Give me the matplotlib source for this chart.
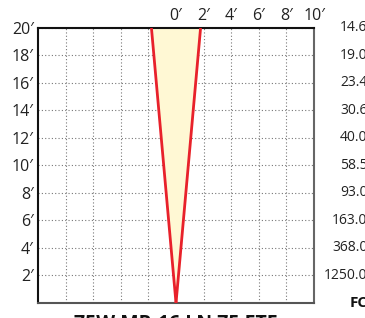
import matplotlib.pyplot as plt

# beam spread data (feet)
distance = [0, 20]
half_width = [0, 1.78]
fc_levels = [20, 18, 16, 14, 12, 10, 8, 6, 4, 2]
fc_values = ["14.6", "19.0", "23.4", "30.6", "40.0", "58.5", "93.0", "163.0", "368.0", "1250.0"]
x_ticks = [0, 2, 4, 6, 8, 10]
y_ticks = [2, 4, 6, 8, 10, 12, 14, 16, 18, 20]
lamp_name = "75W MR-16 LN 75 ETF"

plt.rcParams['font.family'] = ['Open Sans', 'DejaVu Sans']

fig = plt.figure(figsize=(3.65, 3.18), dpi=100)
ax = fig.add_axes([0.1041, 0.0472, 0.7562, 0.8648])

neg = [-w for w in half_width]
ax.fill_betweenx(distance, neg, half_width, color="#fff8d4", zorder=1)
ax.plot(neg, distance, color="#e8212b", lw=2.0, zorder=3, solid_capstyle="butt")
ax.plot(half_width, distance, color="#e8212b", lw=2.0, zorder=3, solid_capstyle="butt")

ax.set_xlim(-10, 10)
ax.set_ylim(0, 20)

grid_x = list(range(-8, 11, 2))
ax.set_xticks(grid_x)
ax.set_xticklabels(["" if v < 0 else f"{v}\u2032" for v in grid_x])
ax.set_yticks(y_ticks)
ax.set_yticklabels([f"{v}\u2032" for v in y_ticks])
ax.xaxis.tick_top()
ax.tick_params(length=0, labelsize=11.5, colors="#222222", pad=3)

ax.grid(True, linestyle=(0, (1, 2)), color="#777777", lw=0.8, zorder=0)
ax.set_axisbelow(True)

for side, col in [("left", "#111111"), ("top", "#111111"), ("right", "#666666"), ("bottom", "#555555")]:
    ax.spines[side].set_color(col)
    ax.spines[side].set_linewidth(1.5)

# footcandle column on the right
for lvl, txt in zip(fc_levels, fc_values):
    ax.text(1.194, lvl, txt, transform=ax.get_yaxis_transform(), ha="right", va="center",
            fontsize=10, color="#222222")
ax.text(1.194, 0, "FC", transform=ax.get_yaxis_transform(), ha="right", va="center",
        fontsize=11, fontweight="bold", color="#111111")

fig.text(0.482, -0.051, lamp_name, ha="center", va="bottom", fontsize=14, fontweight="bold", color="#111111")

fig.savefig("out.png", dpi=100)
